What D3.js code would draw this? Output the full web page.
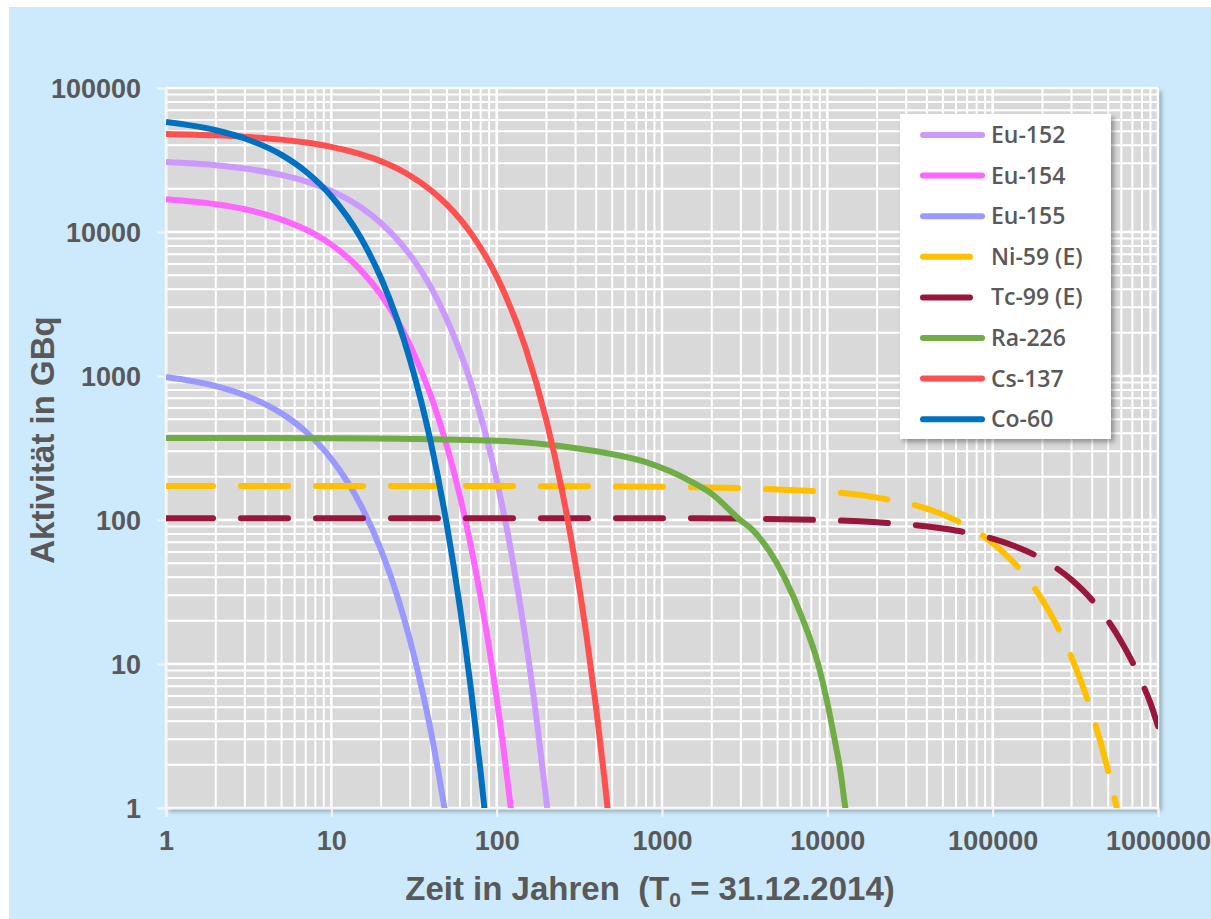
<!DOCTYPE html>
<html>
<head>
<meta charset="utf-8">
<script src="https://cdn.jsdelivr.net/npm/d3@7"></script>
<style>
  body { margin: 0; background: #fff; }
  svg { display: block; }
</style>
</head>
<body>
<div id="chart"></div>
<script>
let svgWidth = 1211;
let svgHeight = 919;
let plot = { left: 166, right: 1158, top: 88, bottom: 808 };

// Data: time in years, activity in GBq

let seriesNames = ["Eu-152", "Eu-154", "Eu-155", "Ni-59 (E)", "Tc-99 (E)", "Ra-226", "Cs-137", "Co-60"];
let seriesColors = ["#cc99ff", "#ff66ff", "#9999ff", "#ffc000", "#99173a", "#70ad47", "#ff5050", "#0070c0"];
let seriesDashed = [false, false, false, true, true, false, false, false];

let eu152T = [1, 2, 3, 5, 7, 10, 15, 20, 30, 40, 50, 70, 100, 120, 150, 175, 200, 220];
let eu152A = [30600, 29100, 27600, 24900, 22500, 19300, 14900, 11500, 6900, 4140, 2470, 887, 190, 68, 14.6, 4.0, 1.12, 0.4];

let eu154T = [1, 2, 3, 5, 7, 10, 15, 20, 30, 40, 50, 60, 70, 80, 90, 100, 110, 120, 130];
let eu154A = [16900, 15600, 14400, 12200, 10400, 8180, 5460, 3650, 1630, 729, 326, 146, 65, 29, 13, 5.8, 2.6, 1.15, 0.52];

let eu155T = [1, 2, 3, 5, 7, 10, 15, 20, 25, 30, 35, 40, 45, 50];
let eu155A = [985, 851, 736, 550, 411, 266, 128, 61.8, 29.9, 14.5, 7.0, 3.4, 1.63, 0.79];

let ni59T = [1, 10, 100, 1000, 10000, 20000, 50000, 100000, 150000, 200000, 300000, 400000, 500000, 600000];
let ni59A = [172, 172, 172, 170, 157, 143, 109, 69, 43.8, 27.8, 11.1, 4.5, 1.8, 0.72];

let tc99T = [1, 10, 100, 1000, 10000, 20000, 50000, 100000, 200000, 300000, 400000, 500000, 600000, 700000, 800000, 900000, 1000000];
let tc99A = [103, 103, 103, 103, 99.7, 96.4, 87.3, 74.1, 53.4, 38.4, 27.7, 19.9, 14.3, 10.3, 7.4, 5.35, 3.7];

let ra226T = [1, 10, 100, 200, 400, 800, 1500, 2000, 3000, 3500, 4500, 5500, 7000, 8800, 10000, 11000, 12000, 12850, 13500];
let ra226A = [371, 370, 355, 335, 300, 252, 185, 152, 99, 86, 60, 40, 21.3, 10, 5.4, 3.1, 1.8, 1.0, 0.7];

let cs137T = [1, 2, 3, 5, 7, 10, 15, 20, 30, 40, 50, 70, 100, 150, 200, 250, 300, 350, 400, 450, 500];
let cs137A = [48000, 46900, 45800, 43800, 41800, 39000, 34700, 31000, 24600, 19500, 15500, 9780, 4920, 1550, 490, 155, 49, 15.5, 4.9, 1.55, 0.49];

let co60T = [1, 2, 3, 5, 7, 10, 15, 20, 30, 40, 50, 60, 70, 80, 90];
let co60A = [58000, 50900, 44600, 34300, 26300, 17700, 9180, 4770, 1280, 344, 92, 24.7, 6.6, 1.78, 0.48];

let seriesT = [eu152T, eu154T, eu155T, ni59T, tc99T, ra226T, cs137T, co60T];
let seriesA = [eu152A, eu154A, eu155A, ni59A, tc99A, ra226A, cs137A, co60A];

let xTicks = [1, 10, 100, 1000, 10000, 100000, 1000000];
let yTicks = [1, 10, 100, 1000, 10000, 100000];

let textColor = "#595959";

let svg = d3.select("#chart").append("svg").attr("width", svgWidth).attr("height", svgHeight);

let defs = svg.append("defs");
let shadow = defs.append("filter").attr("id", "shadow")
  .attr("x", "-5%").attr("y", "-5%").attr("width", "115%").attr("height", "115%");
shadow.append("feDropShadow")
  .attr("dx", 3).attr("dy", 3).attr("stdDeviation", 2.5)
  .attr("flood-color", "#000").attr("flood-opacity", 0.35);

defs.append("clipPath").attr("id", "plotClip")
  .append("rect")
  .attr("x", plot.left).attr("y", plot.top)
  .attr("width", plot.right - plot.left).attr("height", plot.bottom - plot.top);

// Background
svg.append("rect")
  .attr("x", 9).attr("y", 7)
  .attr("width", svgWidth - 9).attr("height", svgHeight - 7)
  .attr("fill", "#cdeafc");

// Scales
let x = d3.scaleLog().domain([1, 1000000]).range([plot.left, plot.right]);
let y = d3.scaleLog().domain([1, 100000]).range([plot.bottom, plot.top]);

// Plot area
svg.append("rect")
  .attr("x", plot.left).attr("y", plot.top)
  .attr("width", plot.right - plot.left).attr("height", plot.bottom - plot.top)
  .attr("fill", "#d9d9d9")
  .attr("filter", "url(#shadow)");

// Grid lines (major + minor)
let grid = svg.append("g").attr("stroke", "#ffffff");

grid.selectAll(".vgrid")
  .data(x.ticks())
  .enter()
  .append("line")
  .attr("x1", d => x(d)).attr("x2", d => x(d))
  .attr("y1", plot.top).attr("y2", plot.bottom)
  .attr("stroke-width", d => xTicks.includes(d) ? 2.5 : 2);

grid.selectAll(".hgrid")
  .data(y.ticks())
  .enter()
  .append("line")
  .attr("x1", plot.left).attr("x2", plot.right)
  .attr("y1", d => y(d)).attr("y2", d => y(d))
  .attr("stroke-width", d => yTicks.includes(d) ? 2.5 : 2);

// Axes
let xAxis = svg.append("g")
  .attr("transform", `translate(0, ${plot.bottom})`)
  .call(d3.axisBottom(x).tickValues(xTicks).tickSize(9).tickPadding(14).tickFormat(d3.format("d")));

let yAxis = svg.append("g")
  .attr("transform", `translate(${plot.left}, 0)`)
  .call(d3.axisLeft(y).tickValues(yTicks).tickSize(9).tickPadding(16).tickFormat(d3.format("d")));

[xAxis, yAxis].forEach(ax => {
  ax.select(".domain").attr("stroke", "#f4f4f4").attr("stroke-width", 2);
  ax.selectAll(".tick line").attr("stroke", "#f4f4f4").attr("stroke-width", 2);
  ax.selectAll(".tick text")
    .attr("fill", textColor)
    .style("font-family", "'Liberation Sans', Arial, sans-serif")
    .style("font-weight", "bold")
    .style("font-size", "27px");
});
yAxis.selectAll(".tick text").attr("dy", "0.36em");

// Lines
let line = d3.line()
  .x(d => x(d[0]))
  .y(d => y(d[1]))
  .curve(d3.curveMonotoneX);

let linesGroup = svg.append("g").attr("clip-path", "url(#plotClip)");

seriesNames.forEach((name, i) => {
  let pts = seriesT[i].map((t, j) => [t, seriesA[i][j]]);
  linesGroup.append("path")
    .datum(pts)
    .attr("d", line)
    .attr("fill", "none")
    .attr("stroke", seriesColors[i])
    .attr("stroke-width", 6)
    .attr("stroke-linecap", seriesDashed[i] ? "round" : "butt")
    .attr("stroke-linejoin", "round")
    .attr("stroke-dasharray", seriesDashed[i] ? "47,28" : null);
});

// Legend
let legend = svg.append("g");
legend.append("rect")
  .attr("x", 900).attr("y", 114)
  .attr("width", 211).attr("height", 325)
  .attr("fill", "#ffffff")
  .attr("filter", "url(#shadow)");

seriesNames.forEach((name, i) => {
  let ly = 135 + i * 40.6;
  legend.append("line")
    .attr("x1", 923).attr("x2", 982)
    .attr("y1", ly).attr("y2", ly)
    .attr("stroke", seriesColors[i])
    .attr("stroke-width", 6)
    .attr("stroke-linecap", "round")
    .attr("stroke-dasharray", seriesDashed[i] ? "47,28" : null);
  legend.append("text")
    .attr("x", 991).attr("y", ly)
    .attr("dy", "0.35em")
    .attr("fill", textColor)
    .style("font-family", "'Open Sans', sans-serif")
    .style("font-weight", 600)
    .style("font-size", "23px")
    .text(name);
});

// Axis titles
let titleFont = "'Liberation Sans', Arial, sans-serif";

let xTitle = svg.append("text")
  .attr("x", 650).attr("y", 900)
  .attr("text-anchor", "middle")
  .attr("fill", textColor)
  .style("font-family", titleFont)
  .style("font-weight", "bold")
  .style("font-size", "33px")
  .attr("xml:space", "preserve");
xTitle.append("tspan").text("Zeit in Jahren\u00a0\u00a0(T");
xTitle.append("tspan").attr("dy", 7).style("font-size", "21px").text("0");
xTitle.append("tspan").attr("dy", -7).text(" = 31.12.2014)");

svg.append("text")
  .attr("transform", "translate(54, 440) rotate(-90)")
  .attr("text-anchor", "middle")
  .attr("fill", textColor)
  .style("font-family", titleFont)
  .style("font-weight", "bold")
  .style("font-size", "33px")
  .text("Aktivität in GBq");
</script>
</body>
</html>
